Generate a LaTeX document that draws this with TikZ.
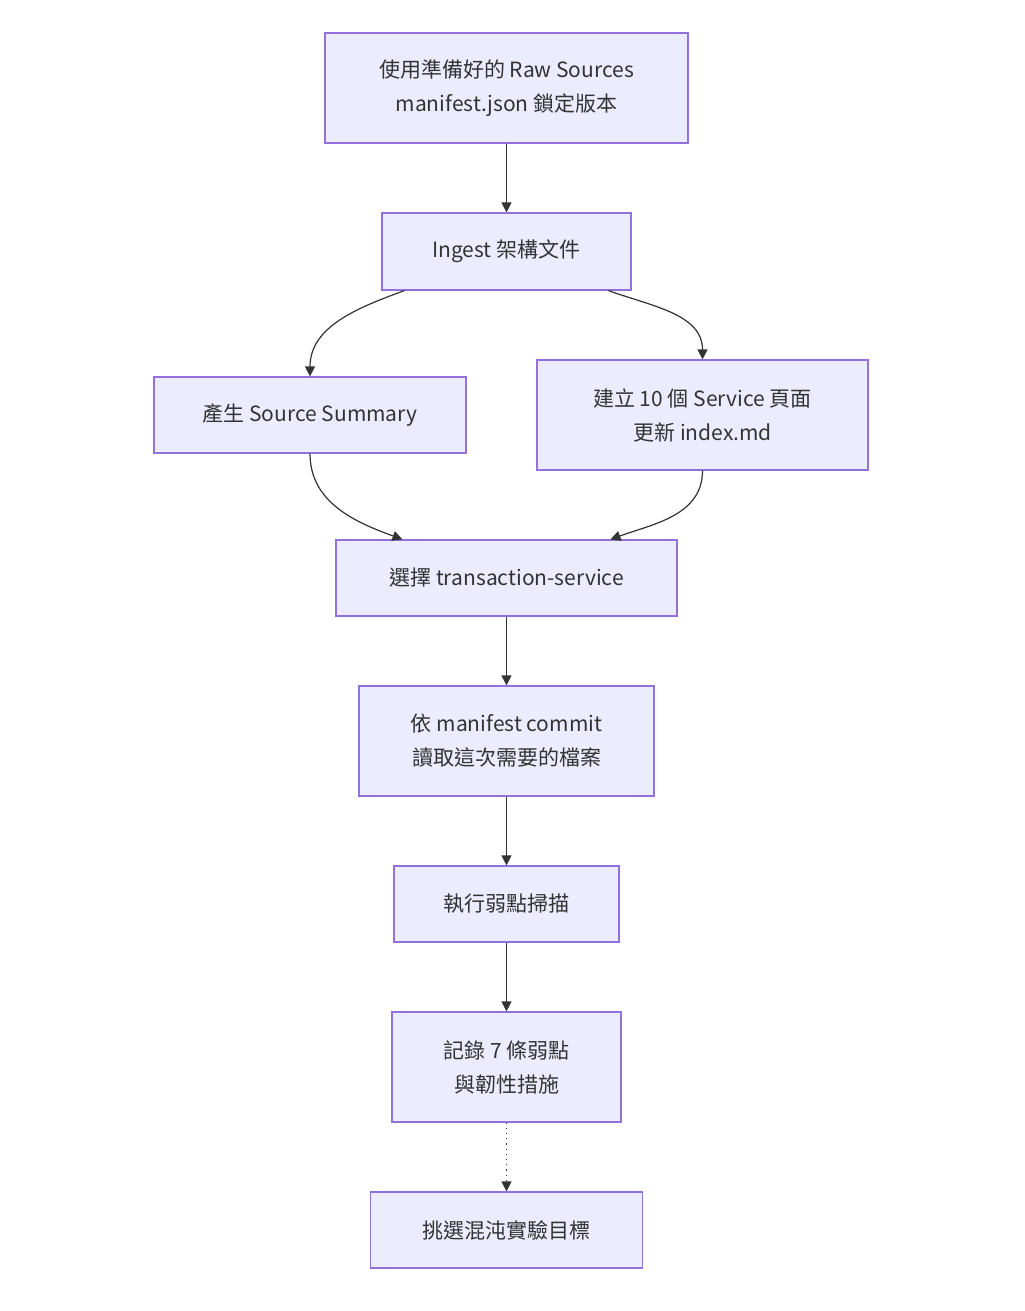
\documentclass[tikz,border=0pt]{standalone}
\usepackage{fontspec}
\setmainfont{Noto Sans CJK TC}
\usetikzlibrary{arrows.meta, positioning}
\definecolor{boxfill}{HTML}{ECECFF}
\definecolor{boxline}{HTML}{9370DB}
\definecolor{linkcol}{HTML}{333333}

\begin{document}
\begin{tikzpicture}[x=0.5pt, y=-0.5pt]
        \tikzset{box/.style={draw=boxline, fill=boxfill, line width=0.6pt, align=center,
                font=\fontsize{10.5}{17}\selectfont, text=linkcol, inner sep=0pt},
                link/.style={draw=linkcol, line width=0.6pt, -{Triangle[length=5pt,width=5pt]}}}
        % fixed canvas
        \useasboundingbox (0,0) rectangle (1024,1311);

        \node[box, minimum width=181.5pt, minimum height=55pt] (raw) at (506.5,88) {使用準備好的 Raw Sources\\manifest.json 鎖定版本};
        \node[box, minimum width=124.5pt, minimum height=38.5pt] (ingest) at (506.5,251.5) {Ingest 架構文件};
        \node[box, minimum width=156pt, minimum height=38pt] (summary) at (310,415) {產生 Source Summary};
        \node[box, minimum width=165.5pt, minimum height=55pt] (pages) at (702.5,415) {建立 10 個 Service 頁面\\更新 index.md};
        \node[box, minimum width=170.5pt, minimum height=38pt] (pick) at (506.5,578) {選擇 transaction-service};
        \node[box, minimum width=147.5pt, minimum height=55pt] (read) at (506.5,741) {依 manifest commit\\讀取這次需要的檔案};
        \node[box, minimum width=112.5pt, minimum height=38pt] (scan) at (506.5,904) {執行弱點掃描};
        \node[box, minimum width=114.5pt, minimum height=55pt] (record) at (506.5,1067) {記錄 7 條弱點\\與韌性措施};
        \node[box, minimum width=136pt, minimum height=38pt] (target) at (506.5,1230) {挑選混沌實驗目標};

        \path[link] (raw) -- (ingest);
        \path[link] ([xshift=-51pt]ingest.south) to[out=200, in=90] (summary.north);
        \path[link] ([xshift=51pt]ingest.south) to[out=-20, in=90] (pages.north);
        \path[link] (summary.south) to[out=-90, in=160] ([xshift=-52pt]pick.north);
        \path[link] (pages.south) to[out=-90, in=20] ([xshift=52pt]pick.north);
        \path[link] (pick) -- (read);
        \path[link] (read) -- (scan);
        \path[link] (scan) -- (record);
        \path[link, dotted] (record) -- (target);
\end{tikzpicture}
\end{document}
